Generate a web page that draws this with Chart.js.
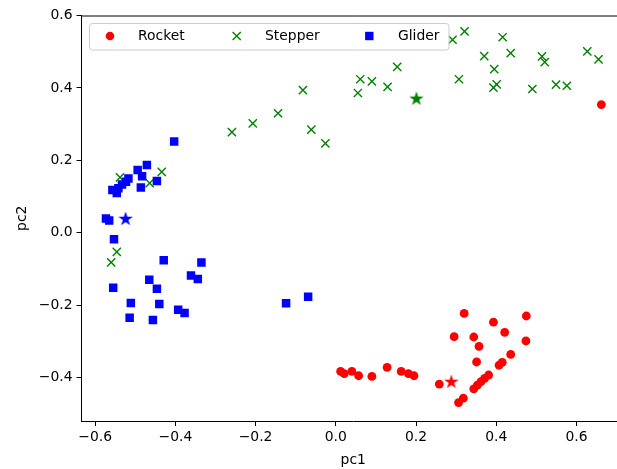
<!DOCTYPE html>
<html>
<head>
<meta charset="utf-8">
<script src="https://cdn.jsdelivr.net/npm/chart.js@4/dist/chart.umd.min.js"></script>
<style>
  html, body { margin: 0; padding: 0; background: #fff; overflow: hidden; }
  #wrap { width: 617px; height: 469px; overflow: hidden; position: relative; }
  canvas { display: block; }
</style>
</head>
<body>
<div id="wrap"><canvas id="c" width="640" height="469" style="width:640px;height:469px"></canvas></div>
<script>
// Principal-component projection of three pattern classes
const rocketX = [0.012, 0.021, 0.040, 0.057, 0.090, 0.128, 0.163, 0.181, 0.195, 0.258,
                 0.295, 0.320, 0.393, 0.475, 0.421, 0.344, 0.357, 0.474, 0.436, 0.351,
                 0.415, 0.407, 0.381, 0.371, 0.362, 0.353, 0.344, 0.318, 0.306, 0.662];
const rocketY = [-0.383, -0.389, -0.383, -0.395, -0.397, -0.372, -0.383, -0.389, -0.395, -0.418,
                 -0.287, -0.223, -0.247, -0.230, -0.275, -0.288, -0.314, -0.299, -0.336, -0.357,
                 -0.358, -0.366, -0.393, -0.402, -0.411, -0.421, -0.431, -0.457, -0.469, 0.354];

const stepperX = [-0.259, -0.207, -0.144, -0.082, -0.061, -0.026, 0.055, 0.061, 0.090, 0.129,
                  0.153, 0.291, 0.321, 0.416, 0.370, 0.436, 0.395, 0.307, 0.401, 0.393,
                  0.514, 0.521, 0.490, 0.549, 0.576, 0.627, 0.655, -0.434, -0.464, -0.538,
                  -0.546, -0.560];
const stepperY = [0.278, 0.302, 0.330, 0.394, 0.285, 0.247, 0.386, 0.424, 0.418, 0.403,
                  0.458, 0.533, 0.556, 0.540, 0.488, 0.496, 0.452, 0.424, 0.410, 0.401,
                  0.487, 0.471, 0.397, 0.409, 0.406, 0.501, 0.479, 0.168, 0.137, 0.153,
                  -0.053, -0.082];

const gliderX = [-0.403, -0.471, -0.494, -0.483, -0.517, -0.446, -0.486, -0.533, -0.542, -0.557,
                 -0.546, -0.523, -0.573, -0.565, -0.553, -0.429, -0.335, -0.361, -0.344, -0.465,
                 -0.446, -0.555, -0.511, -0.440, -0.393, -0.377, -0.514, -0.456, -0.124, -0.069];
const gliderY = [0.252, 0.187, 0.173, 0.156, 0.150, 0.143, 0.125, 0.133, 0.123, 0.118,
                 0.110, 0.141, 0.039, 0.034, -0.018, -0.076, -0.082, -0.118, -0.128, -0.130,
                 -0.155, -0.152, -0.194, -0.197, -0.213, -0.222, -0.235, -0.241, -0.195, -0.177];

// highlighted sample of each class (star markers)
const starX = [0.288, 0.201, -0.524];
const starY = [-0.412, 0.370, 0.038];

const classNames = ['Rocket', 'Stepper', 'Glider'];
const xTicks = [-0.6, -0.4, -0.2, 0.0, 0.2, 0.4, 0.6];
const yTicks = [-0.4, -0.2, 0.0, 0.2, 0.4, 0.6];

const RED = '#ff0000', GREEN = '#008000', BLUE = '#0000ff';
const FONT = '"DejaVu Sans", "Liberation Sans", sans-serif';
const FS = 13.9;

const toPoints = (xs, ys) => xs.map((x, i) => ({ x: x, y: ys[i] }));
const fmt = v => {
  const s = Math.abs(v).toFixed(1);
  return (v < -1e-9 ? '\u2212' : '') + s;
};

function starImage(color, outer) {
  const size = Math.ceil(outer * 2 + 2);
  const cv = document.createElement('canvas');
  cv.width = size; cv.height = size;
  const g = cv.getContext('2d');
  const cx = size / 2, cy = size / 2, inner = outer * 0.382;
  g.beginPath();
  for (let k = 0; k < 10; k++) {
    const r = k % 2 === 0 ? outer : inner;
    const a = -Math.PI / 2 + k * Math.PI / 5;
    const px = cx + r * Math.cos(a), py = cy + r * Math.sin(a);
    if (k === 0) g.moveTo(px, py); else g.lineTo(px, py);
  }
  g.closePath();
  g.fillStyle = color;
  g.fill();
  return cv;
}

const starStyles = [starImage(RED, 7.6), starImage(GREEN, 7.6), starImage(BLUE, 7.6)];

// axes frame (top/right spines) and in-plot legend
const frameAndLegend = {
  id: 'frameAndLegend',
  afterDraw(chart) {
    const { ctx, chartArea: a } = chart;
    ctx.save();
    ctx.strokeStyle = '#000';
    ctx.lineWidth = 1;
    ctx.beginPath();
    ctx.moveTo(a.left, a.top + 0.5);
    ctx.lineTo(a.right, a.top + 0.5);
    ctx.lineTo(a.right, a.bottom);
    ctx.stroke();

    // legend box
    const bx = 89.5, by = 23.5, bw = 359.5, bh = 26.5, r = 3;
    ctx.beginPath();
    ctx.moveTo(bx + r, by);
    ctx.arcTo(bx + bw, by, bx + bw, by + bh, r);
    ctx.arcTo(bx + bw, by + bh, bx, by + bh, r);
    ctx.arcTo(bx, by + bh, bx, by, r);
    ctx.arcTo(bx, by, bx + bw, by, r);
    ctx.closePath();
    ctx.fillStyle = 'rgba(255,255,255,0.8)';
    ctx.fill();
    ctx.strokeStyle = '#cccccc';
    ctx.lineWidth = 1;
    ctx.stroke();

    const cy = 36;
    // Rocket marker
    ctx.fillStyle = RED;
    ctx.beginPath();
    ctx.arc(110, cy, 4.3, 0, Math.PI * 2);
    ctx.fill();
    // Stepper marker
    ctx.strokeStyle = GREEN;
    ctx.lineWidth = 1.4;
    ctx.beginPath();
    ctx.moveTo(236.7 - 4.1, cy - 4.1); ctx.lineTo(236.7 + 4.1, cy + 4.1);
    ctx.moveTo(236.7 - 4.1, cy + 4.1); ctx.lineTo(236.7 + 4.1, cy - 4.1);
    ctx.stroke();
    // Glider marker
    ctx.fillStyle = BLUE;
    ctx.fillRect(369.3 - 4.2, cy - 4.2, 8.4, 8.4);

    ctx.fillStyle = '#000';
    ctx.font = FS + 'px ' + FONT;
    ctx.textBaseline = 'middle';
    ctx.textAlign = 'left';
    ctx.fillText(classNames[0], 138, cy);
    ctx.fillText(classNames[1], 265, cy);
    ctx.fillText(classNames[2], 398, cy);
    ctx.restore();
  }
};

const tickFont = { family: FONT, size: FS };

new Chart(document.getElementById('c'), {
  type: 'scatter',
  data: {
    datasets: [
      { label: 'stars', data: toPoints(starX, starY), pointStyle: starStyles,
        pointRadius: 7.6, order: 0 },
      { label: classNames[2], data: toPoints(gliderX, gliderY), pointStyle: 'rect',
        pointRadius: 6.0, backgroundColor: BLUE, borderColor: BLUE, borderWidth: 0, order: 1 },
      { label: classNames[1], data: toPoints(stepperX, stepperY), pointStyle: 'crossRot',
        pointRadius: 5.8, borderColor: GREEN, backgroundColor: GREEN, borderWidth: 1.4, order: 2 },
      { label: classNames[0], data: toPoints(rocketX, rocketY), pointStyle: 'circle',
        pointRadius: 4.4, backgroundColor: RED, borderColor: RED, borderWidth: 0, order: 3 }
    ]
  },
  options: {
    responsive: false,
    animation: false,
    devicePixelRatio: 1,
    events: [],
    layout: { padding: { left: 0, top: 15.5, right: 15, bottom: 0 } },
    plugins: { legend: { display: false }, tooltip: { enabled: false } },
    elements: { point: { hoverRadius: 0 } },
    scales: {
      x: {
        type: 'linear',
        min: -0.634, max: 0.721,
        afterBuildTicks: s => { s.ticks = xTicks.map(v => ({ value: v })); },
        afterFit: s => { s.height = 48; },
        ticks: { font: tickFont, color: '#000', padding: 3, maxRotation: 0,
                 callback: v => fmt(v) },
        grid: { display: true, drawOnChartArea: false, drawTicks: true, tickLength: 5,
                color: '#000', lineWidth: 1 },
        border: { display: true, color: '#000', width: 1 },
        title: { display: true, text: 'pc1', font: tickFont, color: '#000',
                 padding: { top: 0, bottom: 0 } }
      },
      y: {
        type: 'linear',
        min: -0.52, max: 0.6,
        afterBuildTicks: s => { s.ticks = yTicks.map(v => ({ value: v })); },
        afterFit: s => { s.width = 81.5; },
        ticks: { font: tickFont, color: '#000', padding: 4, callback: v => fmt(v) },
        grid: { display: true, drawOnChartArea: false, drawTicks: true, tickLength: 5,
                color: '#000', lineWidth: 1 },
        border: { display: true, color: '#000', width: 1 },
        title: { display: true, text: 'pc2', font: tickFont, color: '#000',
                 padding: { top: 14, bottom: 0 } }
      }
    }
  },
  plugins: [frameAndLegend]
});
</script>
</body>
</html>
